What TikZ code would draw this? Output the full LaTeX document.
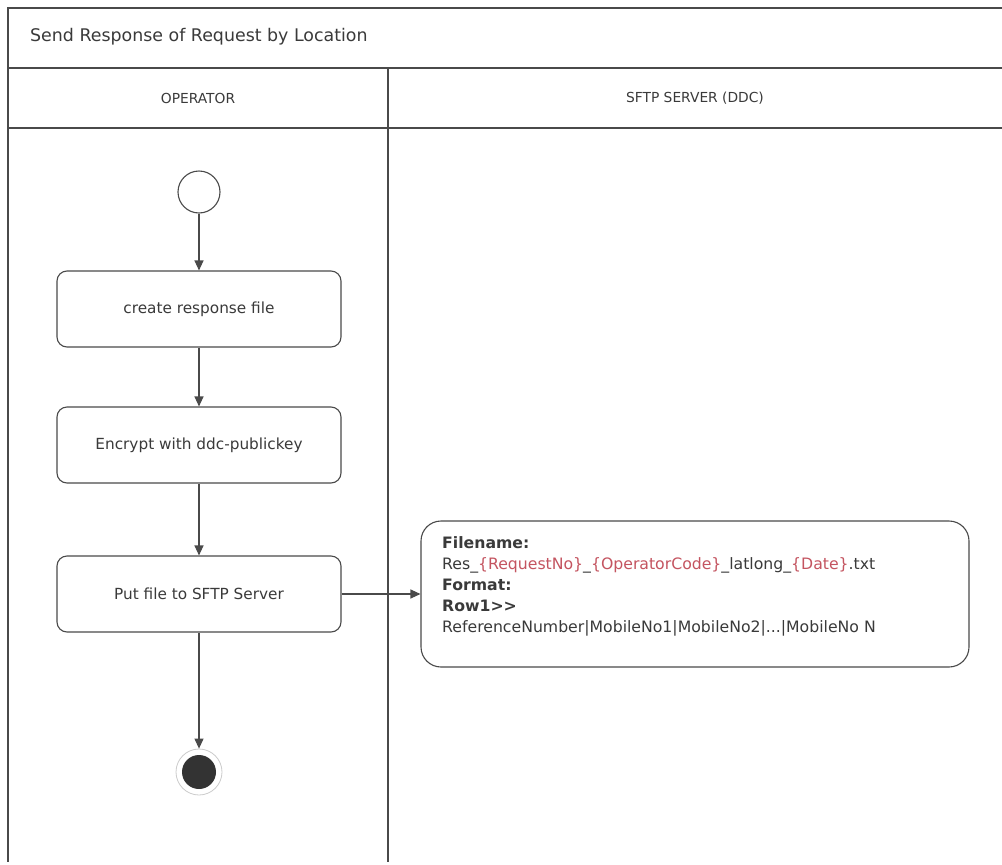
\documentclass[tikz,border=0pt]{standalone}
\usepackage{fontspec}
\setmainfont{DejaVu Sans}
\usetikzlibrary{arrows.meta,positioning}
\definecolor{linegray}{HTML}{4A4A4A}
\definecolor{txtgray}{HTML}{3A3A3A}
\definecolor{varred}{RGB}{196,84,96}
\tikzset{
  lane/.style={draw=linegray, line width=1.4pt},
  actbox/.style={draw=linegray, line width=1.1pt, rounded corners=10pt, minimum width=284pt, minimum height=76pt, font=\fontsize{15.3}{18}\selectfont, text=txtgray},
  startnode/.style={circle, draw=linegray, line width=1.1pt, minimum size=42pt, inner sep=0pt},
  endnode/.style={circle, fill=black!80, minimum size=34pt, inner sep=0pt},
  endring/.style={circle, draw=black!20, line width=0.8pt, minimum size=46pt, inner sep=0pt},
  notebox/.style={draw=linegray, line width=1.1pt, rounded corners=20pt, minimum width=548pt, minimum height=146pt},
  flow/.style={draw=linegray, line width=1.1pt, -{Triangle[length=10pt,width=9pt]}},
  hdr/.style={font=\fontsize{13.8}{17}\selectfont, text=txtgray},
}
\begin{document}
\begin{tikzpicture}[x=1pt,y=-1pt]
\useasboundingbox (0,0) rectangle (1002,865);
\fill[white] (0,0) rectangle (1002,865);
% frame
\draw[lane] (1002,8) -- (8,8) -- (8,862);
\draw[lane] (8,68) -- (1002,68);
\draw[lane] (8,128) -- (1002,128);
\draw[lane] (388,68) -- (388,862);
\node[hdr, font=\fontsize{17.4}{20}\selectfont, anchor=west, inner sep=0pt] (title) at (30,37) {Send Response of Request by Location};
\node[hdr] (op) at (198,98) {OPERATOR};
\node[hdr] (srv) at (695,98) {SFTP SERVER (DDC)};
% nodes
\node[startnode] (start) at (199,192) {};
\node[actbox] (b1) at (199,309) {create response file};
\node[actbox] (b2) at (199,445) {Encrypt with ddc-publickey};
\node[actbox] (b3) at (199,594) {Put file to SFTP Server};
\node[endring] (ring) at (199,772) {};
\node[endnode] (end) at (199,772) {};
\node[notebox] (note) at (695,594) {};
\node[anchor=north west, align=left, inner sep=0pt, font=\fontsize{15.7}{21.2}\selectfont, text=txtgray] (notetext) at (442,536)
{\textbf{Filename:}\\
Res\_\textcolor{varred}{\{RequestNo\}}\_\textcolor{varred}{\{OperatorCode\}}\_latlong\_\textcolor{varred}{\{Date\}}.txt\\
\textbf{Format:}\\
\textbf{Row1>{}>}\\
ReferenceNumber|MobileNo1|MobileNo2|...|MobileNo N};
% connectors
\draw[flow] (start) -- (b1);
\draw[flow] (b1) -- (b2);
\draw[flow] (b2) -- (b3);
\draw[flow] (b3) -- (ring);
\draw[flow] (b3) -- (note);
\end{tikzpicture}
\end{document}
